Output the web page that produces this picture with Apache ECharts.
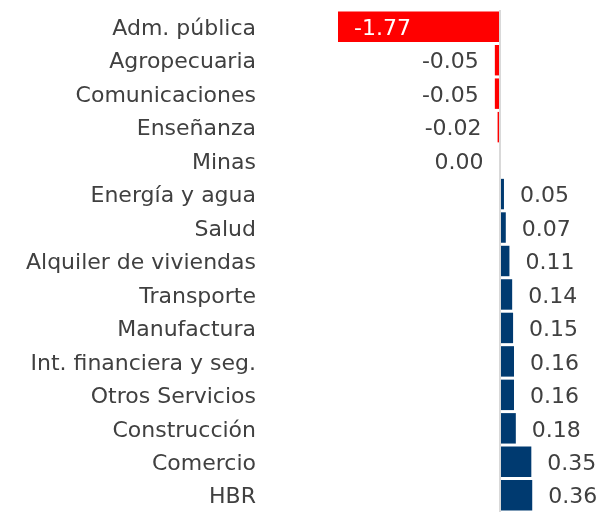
<!DOCTYPE html>
<html>
<head>
<meta charset="utf-8">
<script src="https://cdn.jsdelivr.net/npm/echarts@6/dist/echarts.min.js"></script>
<style>
  html, body { margin: 0; padding: 0; background: #fff; }
  #chart { width: 603px; height: 512px; }
</style>
</head>
<body>
<div id="chart"></div>
<script>
// categories, top to bottom
const sectors = [
  "Adm. pública", "Agropecuaria", "Comunicaciones", "Enseñanza", "Minas",
  "Energía y agua", "Salud", "Alquiler de viviendas", "Transporte", "Manufactura",
  "Int. financiera y seg.", "Otros Servicios", "Construcción", "Comercio", "HBR"
];
const contributions = [
  -1.77, -0.05, -0.05, -0.02, 0.0,
  0.05, 0.07, 0.11, 0.14, 0.15,
  0.16, 0.16, 0.18, 0.35, 0.36
];

const FONT = "DejaVu Sans";
const TEXT = "#404040";

let myChart = echarts.init(document.getElementById("chart"));

const barData = contributions.map((v) => {
  let label;
  if (v < -1) {
    label = { position: "insideLeft", distance: 16, color: "#ffffff" };
  } else if (v <= 0) {
    label = { position: "left", distance: 16, color: TEXT };
  } else {
    label = { position: "right", distance: 16, color: TEXT };
  }
  return {
    value: v,
    itemStyle: { color: v < 0 ? "#ff0000" : "#003a70" },
    label: label,
  };
});

myChart.setOption({
  animation: false,
  grid: { left: 338, right: 58, top: 10, height: 507 },
  xAxis: {
    type: "value",
    min: -1.77,
    max: 0.5,
    show: false,
  },
  yAxis: {
    type: "category",
    inverse: true,
    data: sectors,
    axisLine: { show: false },
    axisTick: { show: false },
    axisLabel: {
      margin: 82,
      fontFamily: FONT,
      fontSize: 22,
      color: TEXT,
      verticalAlign: "top",
      lineHeight: 5,
    },
  },
  series: [
    {
      type: "bar",
      data: barData,
      barCategoryGap: "9%",
      label: {
        show: true,
        fontFamily: FONT,
        fontSize: 22,
        offset: [0, 2.5],
        formatter: (p) => p.value.toFixed(2),
      },
      markLine: {
        silent: true,
        symbol: "none",
        label: { show: false },
        lineStyle: { color: "#d9d9d9", width: 2, type: "solid" },
        data: [{ xAxis: 0 }],
      },
    },
  ],
});
</script>
</body>
</html>
